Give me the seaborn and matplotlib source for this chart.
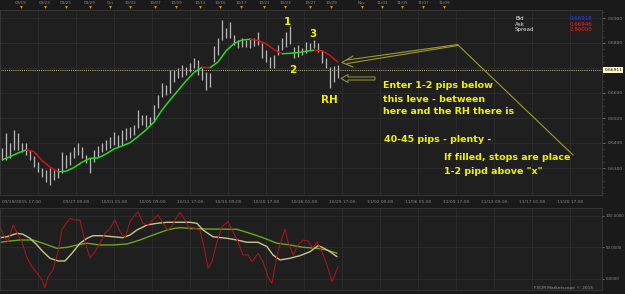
import numpy as np
import pandas as pd
import matplotlib
matplotlib.use("Agg")
import matplotlib.pyplot as plt
import matplotlib.transforms as mtransforms
from matplotlib.collections import LineCollection
from matplotlib.patches import Polygon
from matplotlib.ticker import MultipleLocator
import seaborn as sns

# ---------------- data ----------------
highs = [0.6380, 0.6440, 0.6400, 0.6452, 0.6440, 0.6400, 0.6400, 0.6372, 0.6348, 0.6324,
         0.6300, 0.6292, 0.6300, 0.6292, 0.6300, 0.6364, 0.6352, 0.6364, 0.6384, 0.6400,
         0.6384, 0.6352, 0.6340, 0.6372, 0.6388, 0.6400, 0.6412, 0.6424, 0.6444, 0.6432,
         0.6452, 0.6460, 0.6464, 0.6472, 0.6532, 0.6512, 0.6512, 0.6504, 0.6552, 0.6592,
         0.6640, 0.6632, 0.6692, 0.6692, 0.6700, 0.6712, 0.6704, 0.6720, 0.6740, 0.6732,
         0.6700, 0.6684, 0.6680, 0.6788, 0.6820, 0.6892, 0.6860, 0.6884, 0.6832, 0.6812,
         0.6820, 0.6812, 0.6820, 0.6820, 0.6844, 0.6800, 0.6772, 0.6744, 0.6752, 0.6792,
         0.6820, 0.6844, 0.6868, 0.6784, 0.6792, 0.6780, 0.6804, 0.6800, 0.6812, 0.6800,
         0.6772, 0.6740, 0.6704, 0.6708, 0.6712]
lows = [0.6332, 0.6332, 0.6340, 0.6372, 0.6372, 0.6364, 0.6352, 0.6332, 0.6304, 0.6284,
        0.6264, 0.6244, 0.6232, 0.6252, 0.6260, 0.6280, 0.6300, 0.6312, 0.6340, 0.6352,
        0.6340, 0.6320, 0.6280, 0.6324, 0.6344, 0.6364, 0.6372, 0.6380, 0.6392, 0.6384,
        0.6392, 0.6412, 0.6420, 0.6432, 0.6460, 0.6472, 0.6464, 0.6472, 0.6484, 0.6540,
        0.6584, 0.6592, 0.6600, 0.6644, 0.6660, 0.6664, 0.6672, 0.6684, 0.6700, 0.6672,
        0.6652, 0.6612, 0.6624, 0.6724, 0.6752, 0.6812, 0.6820, 0.6820, 0.6792, 0.6780,
        0.6784, 0.6784, 0.6780, 0.6788, 0.6792, 0.6740, 0.6724, 0.6700, 0.6700, 0.6752,
        0.6772, 0.6784, 0.6796, 0.6740, 0.6744, 0.6752, 0.6760, 0.6772, 0.6780, 0.6764,
        0.6720, 0.6700, 0.6620, 0.6644, 0.6660]

ma_pos = list(range(0, 85, 2))
ma_vals = [0.6332, 0.63452, 0.6360, 0.6372, 0.6366, 0.6330, 0.6304, 0.62848, 0.62868, 0.6302,
           0.63228, 0.63388, 0.6340, 0.6356, 0.6376, 0.6388, 0.64012, 0.6426, 0.6452, 0.6484,
           0.6532, 0.6572, 0.6610, 0.6648, 0.6682, 0.67032, 0.67012, 0.6724, 0.6768, 0.6798,
           0.6812, 0.68148, 0.68108, 0.67968, 0.6774, 0.67568, 0.67588, 0.6762, 0.67668, 0.67712,
           0.67692, 0.6750, 0.67228]

current_price = 0.66911
price_ticks = [0.6300, 0.6400, 0.6500, 0.6600, 0.6700, 0.6800, 0.6900]

red_pos = [-0.5, 0.75, 1.5, 2.75, 4, 5, 6.25, 7.5, 8.75, 10, 10.75, 11.5, 12.75, 14, 15, 15.75,
           17, 18.25, 19.5, 20.75, 22, 23.25, 24.5, 25.75, 27, 28.25, 29.5, 30.75, 32, 33.25,
           34, 35.25, 36.5, 37.75, 39, 40.25, 41.5, 42.75, 43.25, 44.5, 45.75, 47, 48.25, 49.5,
           50.75, 51.5, 52.5, 53.75, 55, 56.5, 57.75, 59, 60.25, 61.5, 62.5, 64, 65.25, 66.5,
           67.5, 68.75, 70, 70.75, 71.5, 72.75, 74, 75.25, 76.5, 77.75, 78.75, 80, 81.25, 82.5, 84]
red_vals = [83.0, 65.1, 59.2, 85.7, 69.8, 59.2, 33.3, 19.5, 9.5, -1.6, -14.3, 3.7, 14.3, 43.3,
            77.8, 85.7, 96.3, 93.7, 93.7, 59.2, 33.3, 43.3, 56.7, 72.5, 80.5, 93.7, 75.1, 64.6,
            91.0, 101.6, 106.8, 88.4, 85.7, 93.7, 101.6, 88.4, 77.8, 85.7, 93.7, 105.9, 93.7,
            77.8, 80.5, 77.8, 43.3, 17.0, 27.5, 59.2, 83.0, 91.0, 75.1, 59.2, 38.1, 38.1, 27.5,
            40.8, 27.5, 3.7, -6.8, 38.1, 64.6, 79.4, 59.2, 38.1, 54.0, 61.9, 60.3, 48.7, 59.2,
            43.3, 22.2, -4.3, 19.5]

khaki_pos = [-0.5, 1.25, 3.75, 5.25, 7, 8.75, 10.25, 12, 14, 15.75, 17.5, 19.5, 21.25, 22.75,
             25.25, 27.75, 30.25, 32, 33.75, 36.25, 38.75, 41.25, 43.25, 47, 48.75, 50.25,
             52.75, 56.25, 58.75, 61.25, 64, 66.25, 67.75, 69.5, 72, 74.5, 77, 79, 80.25, 82, 83.75]
khaki_vals = [65.6, 67.1, 72.5, 71.0, 64.6, 54.0, 43.3, 32.9, 28.6, 28.6, 40.8, 56.7, 64.6, 68.7,
              68.7, 67.1, 65.6, 69.8, 77.8, 85.7, 88.4, 90.0, 90.0, 90.0, 88.4, 77.8, 67.1, 64.6,
              61.9, 58.3, 58.3, 51.3, 38.1, 30.2, 32.9, 37.0, 43.3, 52.9, 49.7, 43.3, 35.4]

green_pos = [-0.5, 2, 4.5, 7.75, 10.25, 13.75, 16.25, 18.75, 21.25, 24.5, 27.75, 31.25, 34.5,
             37.75, 41.25, 43.25, 44.5, 50.25, 58.75, 62, 65.25, 68.75, 72, 75.25, 78.75, 81.25, 83.75]
green_vals = [58.3, 60.3, 61.9, 61.9, 56.7, 48.7, 50.3, 54.0, 56.7, 54.0, 54.0, 55.6, 61.9, 69.8,
              77.8, 80.5, 81.4, 79.4, 78.9, 72.5, 65.6, 56.7, 54.0, 50.3, 48.7, 46.0, 40.8]
osc_ticks = [0, 50, 100]

top_date_pos = [4.75, 10.75, 16, 22, 27, 32, 38.25, 43.5, 49.5, 54.5, 59.75, 65.5, 70.75, 77,
                82.25, 90, 95, 100, 105.25, 110.5]
top_date_labels = ["09/19", "09/23", "09/25", "09/29", "Oct", "10/03", "10/07", "10/09", "10/13",
                   "10/15", "10/17", "10/21", "10/23", "10/27", "10/29", "Nov", "11/03", "11/05",
                   "11/07", "11/09"]
grid_pos = [9.0, 18.6, 28.1, 37.6, 47.1, 56.6, 66.1, 75.6, 85.1, 94.6, 104.1, 113.6, 123.1, 132.6, 142.1]
grid_labels = ["", "09/27 09:00", "10/01 01:00", "10/05 09:00", "10/11 17:00", "10/15 09:00",
               "10/20 17:00", "10/26 01:00", "10/29 17:00", "11/02 09:00", "11/06 01:00",
               "11/09 17:00", "11/13 09:00", "11/17 01:00", "11/20 17:00"]
first_label = "09/19/2015 17:00"

# ---------------- style ----------------
BG = "#1f1f1f"
FIGBG = "#1a1a1a"
GRID = "#2d2d2d"
TXT = "#8a8a8a"
YEL = "#f2f200"
OLIVE = "#9c9c2c"

sns.set_theme(style="dark", rc={
    "axes.facecolor": BG, "figure.facecolor": FIGBG, "axes.edgecolor": "#3a3a3a",
    "grid.color": GRID, "axes.grid": False,
})
plt.rcParams["font.family"] = ["DejaVu Sans"]

fig = plt.figure(figsize=(6.25, 2.94), dpi=100)
W, H = 625.0, 294.0
ax = fig.add_axes([0, (H - 195) / H, 602 / W, 185 / H])
axt = fig.add_axes([0, (H - 10) / H, 602 / W, 10 / H], sharex=ax)
axo = fig.add_axes([0, 4 / H, 602 / W, 82 / H], sharex=ax)

px = mtransforms.Affine2D().scale(1 / W, -1 / H).translate(0, 1) + fig.transFigure

# ---- main price panel ----
idx = np.arange(len(highs))
ax.set_xlim(-0.5, 150)
ax.set_ylim(0.6192, 0.6932)
for g in grid_pos:
    ax.axvline(g, color=GRID, lw=0.6, zorder=0)
for p in price_ticks:
    ax.axhline(p, color=GRID, lw=0.6, zorder=0)
ax.vlines(idx, lows, highs, color="#b9b9b9", lw=0.9, zorder=2)

pts = np.column_stack([ma_pos, ma_vals])
segs = np.stack([pts[:-1], pts[1:]], axis=1)
cols = ["#22dd22" if b >= a else "#dd1111" for a, b in zip(ma_vals[:-1], ma_vals[1:])]
ax.add_collection(LineCollection(segs, colors=cols, linewidths=1.1, zorder=3))

ax.axhline(current_price, color="#b8b880", lw=0.7, ls=(0, (1, 1.2)), zorder=1)

ax.yaxis.tick_right()
ax.set_yticks(price_ticks)
ax.set_yticklabels([f"{p:.4f}" if abs(p - 0.67) > 1e-6 else "" for p in price_ticks])
ax.tick_params(axis="y", labelsize=3.2, colors=TXT, length=2, pad=2, width=0.5)
ax.set_xticks(grid_pos)
ax.set_xticklabels([])
ax.xaxis.set_minor_locator(MultipleLocator(1.5))
ax.tick_params(axis="x", which="both", length=1.5, colors="#555555", width=0.4)
ax.tick_params(axis="x", which="major", length=2.5)
ax.yaxis.set_minor_locator(MultipleLocator(0.0025))
ax.tick_params(axis="y", which="minor", length=1.2, colors="#555555", width=0.4)
for s in ax.spines.values():
    s.set_color("#3a3a3a"); s.set_linewidth(0.6)

ax.text(1.004, current_price, f"{current_price:.5f}", transform=ax.get_yaxis_transform(),
        fontsize=3.2, color="black", va="center", ha="left",
        bbox=dict(boxstyle="square,pad=0.25", fc="#fffbc8", ec="none"), zorder=10, clip_on=False)

# date labels under the price panel
fig.text(2 / W, 1 - 202 / H, first_label, fontsize=3.2, color=TXT, ha="left", va="center")
blend = mtransforms.blended_transform_factory(ax.transData, fig.transFigure)
for g, lab in zip(grid_pos, grid_labels):
    if lab:
        fig.text(g, 1 - 202 / H, lab, fontsize=3.2, color=TXT, ha="center", va="center",
                 transform=blend)

# ---- top date strip ----
axt.set_facecolor(FIGBG)
axt.set_ylim(0, 1)
axt.set_yticks([])
axt.tick_params(axis="x", which="both", bottom=False, labelbottom=False)
for s in axt.spines.values():
    s.set_visible(False)
axt.axhline(0.05, color="#3a3a3a", lw=0.6)
axt.scatter(top_date_pos, [0.32] * len(top_date_pos), marker="v", s=4, color="#e0a000",
            linewidths=0, zorder=3)
for p, lab in zip(top_date_pos, top_date_labels):
    axt.text(p, 0.75, lab, fontsize=3.0, color=TXT, ha="center", va="center")

# ---- oscillator panel ----
axo.set_ylim(-17.5, 112.7)
for g in grid_pos:
    axo.axvline(g, color=GRID, lw=0.6, zorder=0)
for t in osc_ticks:
    axo.axhline(t, color=GRID, lw=0.6, zorder=0)
df_red = pd.DataFrame({"x": red_pos, "v": red_vals})
df_kh = pd.DataFrame({"x": khaki_pos, "v": khaki_vals})
df_gr = pd.DataFrame({"x": green_pos, "v": green_vals})
sns.lineplot(data=df_gr, x="x", y="v", ax=axo, color="#6aa51e", lw=1.0, legend=False)
sns.lineplot(data=df_kh, x="x", y="v", ax=axo, color="#c9c58a", lw=1.0, legend=False)
sns.lineplot(data=df_red, x="x", y="v", ax=axo, color="#b3151a", lw=0.7, legend=False)
axo.set_xlabel(""); axo.set_ylabel("")
axo.yaxis.tick_right()
axo.set_yticks(osc_ticks)
axo.set_yticklabels([f"{t:.4f}" for t in osc_ticks])
axo.tick_params(axis="y", labelsize=2.9, colors=TXT, length=1.5, pad=1.2, width=0.5)
axo.tick_params(axis="x", which="both", bottom=False, labelbottom=False)
for s in axo.spines.values():
    s.set_color("#3a3a3a"); s.set_linewidth(0.6)
axo.set_xlim(-0.5, 150)

# ---- annotations (pixel positions) ----
bold = dict(color=YEL, fontweight="bold", transform=px)
fig.text(287, 22, "1", fontsize=7.5, ha="center", va="center", **bold)
fig.text(293, 70, "2", fontsize=7.5, ha="center", va="center", **bold)
fig.text(313, 34, "3", fontsize=7.5, ha="center", va="center", **bold)
fig.text(329, 100, "RH", fontsize=7.5, ha="center", va="center", **bold)
note = [("Enter 1-2 pips below", 383, 86), ("this leve - between", 383, 99),
        ("here and the RH there is", 383, 112), ("40-45 pips - plenty -", 384, 140),
        ("If filled, stops are place", 444, 158), ("1-2 pipd above \"x\"", 444, 171)]
for s, x, y in note:
    fig.text(x, y, s, fontsize=6.8, ha="left", va="center", **bold)

def pline(xs, ys, lw=0.8):
    fig.add_artist(plt.Line2D(xs, ys, transform=px, color=OLIVE, lw=lw))

pline([347, 458], [60, 44.5])
pline([347, 458], [63.5, 45.5])
pline([353, 342, 353], [56, 62.5, 67])
pline([458, 573], [45, 155])
fig.add_artist(Polygon([(341, 78.5), (348, 74.5), (348, 77), (375, 77), (375, 80),
                        (348, 80), (348, 82.5)], closed=True, fill=False, ec=OLIVE, lw=0.7,
                       transform=px))

# Bid / Ask / Spread
for lab, val, c, y in [("Bid", "0.66918", "#2a3cff", 18), ("Ask", "0.66946", "#ff2020", 24),
                       ("Spread", "2.80000", "#ff2020", 29.5)]:
    fig.text(515, y, lab, fontsize=4.0, color="#e6e6e6", ha="left", va="center", transform=px)
    fig.text(592, y, val, fontsize=4.0, color=c, ha="right", va="center", transform=px)

fig.text(593, 288, "FXCM Marketscope \u00a9 2015", fontsize=3.2, color="#9a9a9a",
         ha="right", va="center", transform=px)

fig.savefig("out.png", dpi=100, facecolor=FIGBG)
